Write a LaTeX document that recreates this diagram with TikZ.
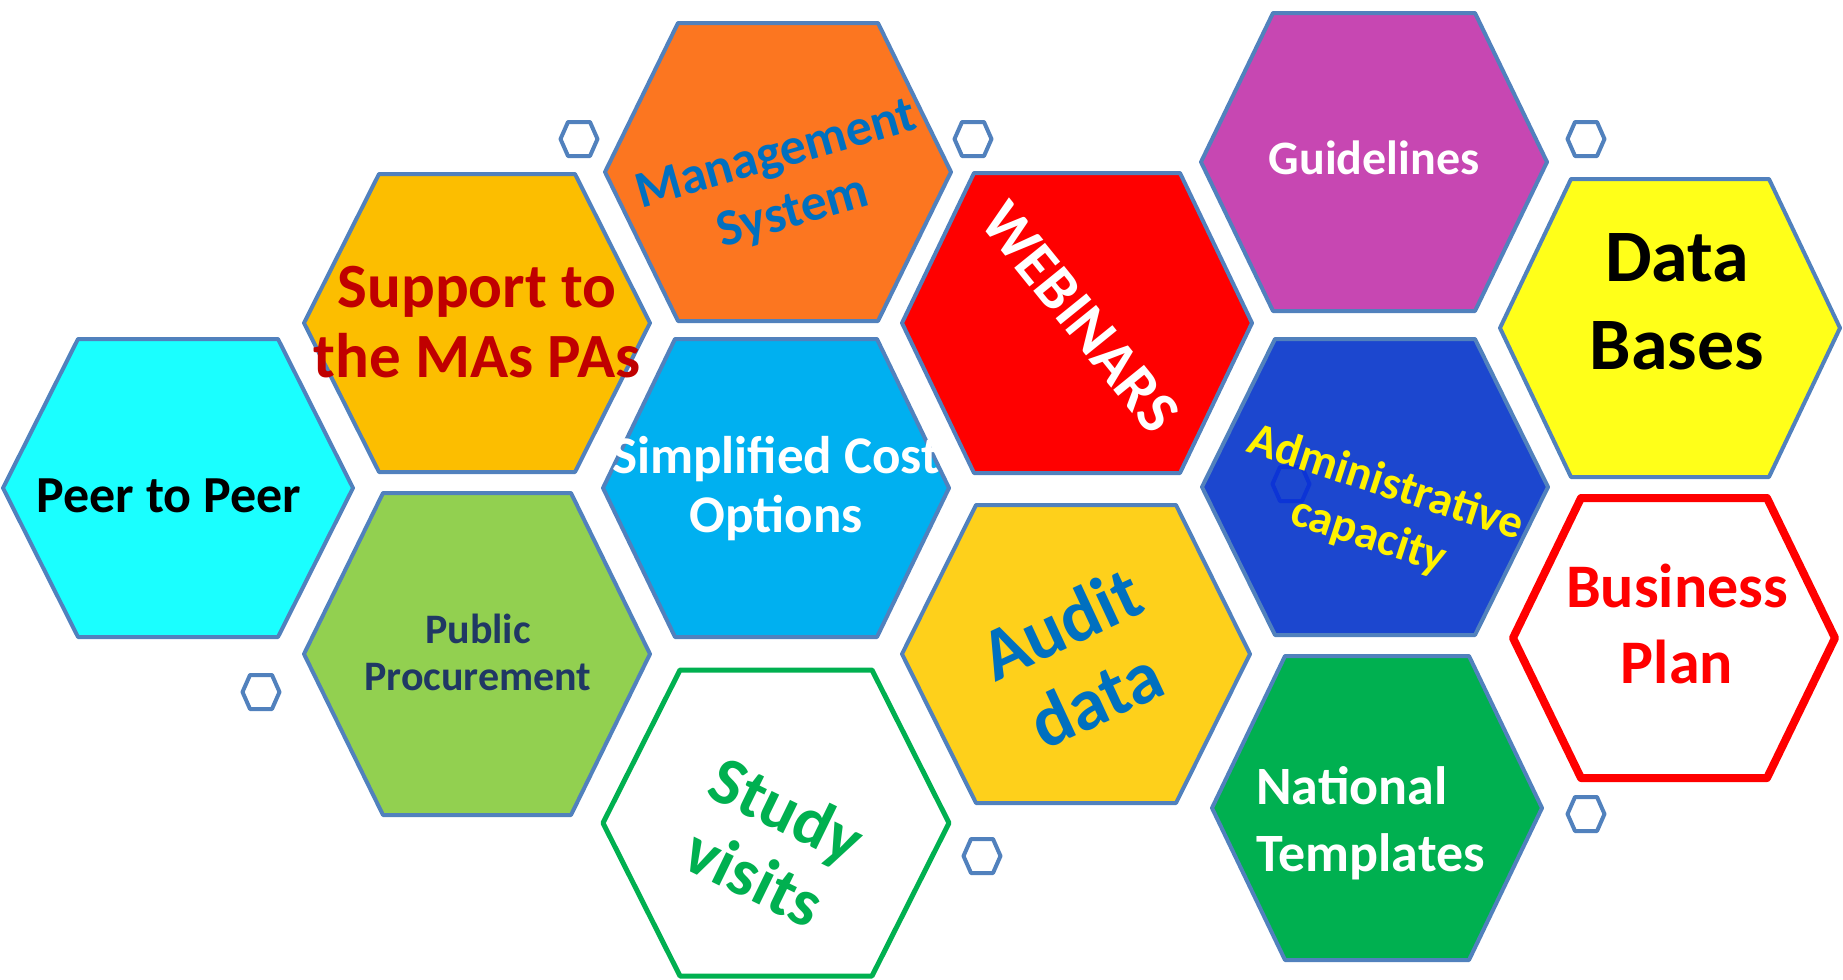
\documentclass[tikz,border=0pt]{standalone}
\usepackage{fontspec}
\setmainfont{Carlito}
\usetikzlibrary{positioning}

\definecolor{edge}{RGB}{81,129,189}
\definecolor{peer}{RGB}{26,255,255}
\definecolor{support}{RGB}{252,190,0}
\definecolor{supporttext}{RGB}{192,0,0}
\definecolor{mgmt}{RGB}{252,118,32}
\definecolor{blueink}{RGB}{0,112,192}
\definecolor{sco}{RGB}{0,176,240}
\definecolor{proc}{RGB}{146,208,80}
\definecolor{navy}{RGB}{32,56,100}
\definecolor{green}{RGB}{0,176,80}
\definecolor{web}{RGB}{255,0,0}
\definecolor{guide}{RGB}{199,71,178}
\definecolor{db}{RGB}{255,255,25}
\definecolor{admin}{RGB}{28,71,207}
\definecolor{adminedge}{RGB}{12,52,214}
\definecolor{audit}{RGB}{254,208,27}

\tikzset{%
  cell/.style={draw=edge, line width=2pt, line join=round}, % every hexagon
  dot/.style={cell, fill=white},                            % the little ones
  celltext/.style={align=center, inner sep=0pt}
}

% hexagon with flat top: center, half width, half height, half top edge
\newcommand{\honeycell}[5][]{%
  \draw[cell,#1] (#2) +(-#3,0) -- +(-#5,-#4) -- +(#5,-#4) -- +(#3,0)
    -- +(#5,#4) -- +(-#5,#4) -- cycle;}
\newcommand{\fs}[2]{\fontsize{#1}{#2}\selectfont\bfseries}

\begin{document}
\begin{tikzpicture}[x=0.5pt, y=-0.5pt]
  \useasboundingbox (0,0) rectangle (1843,980);

  \coordinate (peer) at (178,488);
  \coordinate (support) at (477,323);
  \coordinate (mgmt) at (778,172);
  \coordinate (sco) at (776,488);
  \coordinate (proc) at (477,654);
  \coordinate (study) at (776,823);
  \coordinate (web) at (1077,323);
  \coordinate (guide) at (1374,162);
  \coordinate (db) at (1670,328);
  \coordinate (admin) at (1375,487);
  \coordinate (audit) at (1076,654);
  \coordinate (natl) at (1377,808);
  \coordinate (bplan) at (1674,638);

  % big cells
  \honeycell[fill=peer]{peer}{175}{149}{100}
  \honeycell[fill=support]{support}{173}{149}{98}
  \honeycell[fill=mgmt]{mgmt}{173}{149}{100}
  \honeycell[fill=sco]{sco}{173}{149}{101}
  \honeycell[fill=proc]{proc}{173}{161}{94}
  \honeycell[draw=green, line width=2.5pt, fill=white]{study}{173}{153}{96}
  \honeycell[fill=web]{web}{175}{150}{103}
  \honeycell[fill=guide]{guide}{173}{149}{101}
  \honeycell[fill=db]{db}{170}{149}{99}
  \honeycell[fill=admin]{admin}{173}{148}{100}
  \honeycell[fill=audit]{audit}{174}{149}{100}
  \honeycell[fill=green]{natl}{165}{152}{92}
  \honeycell[draw=web, line width=4pt, fill=white]{bplan}{161}{140}{93}

  % small cells
  \coordinate (s1) at (579,139);
  \coordinate (s2) at (973,139);
  \coordinate (s3) at (1586,139);
  \coordinate (s4) at (261,692);
  \coordinate (s5) at (982,856);
  \coordinate (s6) at (1586,814);
  \coordinate (s7) at (1291,484);
  \foreach \s in {s1,s2,s3,s4,s5,s6}{
    \honeycell[dot]{\s}{18.5}{17}{11}
  }
  \honeycell[draw=adminedge, fill=none]{s7}{18.5}{17}{11}

  % texts
  \node[celltext, font=\fs{26}{30}] (peertxt) at (169,496) {Peer to Peer};
  \node[celltext, text=supporttext, font=\fs{31.5}{35}] (supporttxt) at (477,322)
    {Support to\\the MAs PAs};
  \node[celltext, text=blueink, rotate=16, font=\fs{26}{30}] (mgmttxt) at (785,185)
    {Management\\System};
  \node[celltext, text=white, font=\fs{26.5}{29.5}] (scotxt) at (776,489)
    {Simplified Cost\\Options};
  \node[celltext, text=navy, font=\fs{21}{23.5}] (proctxt) at (478,652)
    {Public\\Procurement};
  \node[celltext, text=green, rotate=-26, font=\fs{34}{37.5}] (studytxt) at (771,843)
    {Study\\visits};
  \node[celltext, text=white, rotate=-51, font=\fs{30.5}{34}] (webtxt) at (1080,317)
    {WEBINARS};
  \node[celltext, text=white, font=\fs{24}{28}] (guidetxt) at (1374,158) {Guidelines};
  \node[celltext, font=\fs{37}{44}] (dbtxt) at (1677,302) {Data\\Bases};
  \node[celltext, text=yellow, rotate=-18, font=\fs{23.5}{27.5}] (admintxt) at (1377,510)
    {Administrative\\capacity};
  \node[celltext, text=blueink, rotate=25, font=\fs{37}{41.5}] (audittxt) at (1078,661)
    {Audit\\data};
  \node[celltext, align=left, anchor=west, text=white, font=\fs{27}{33.5}] (natltxt)
    at (1256,823) {National\\Templates};
  \node[celltext, text=web, font=\fs{31}{38}] (bplantxt) at (1677,624) {Business\\Plan};
\end{tikzpicture}
\end{document}
